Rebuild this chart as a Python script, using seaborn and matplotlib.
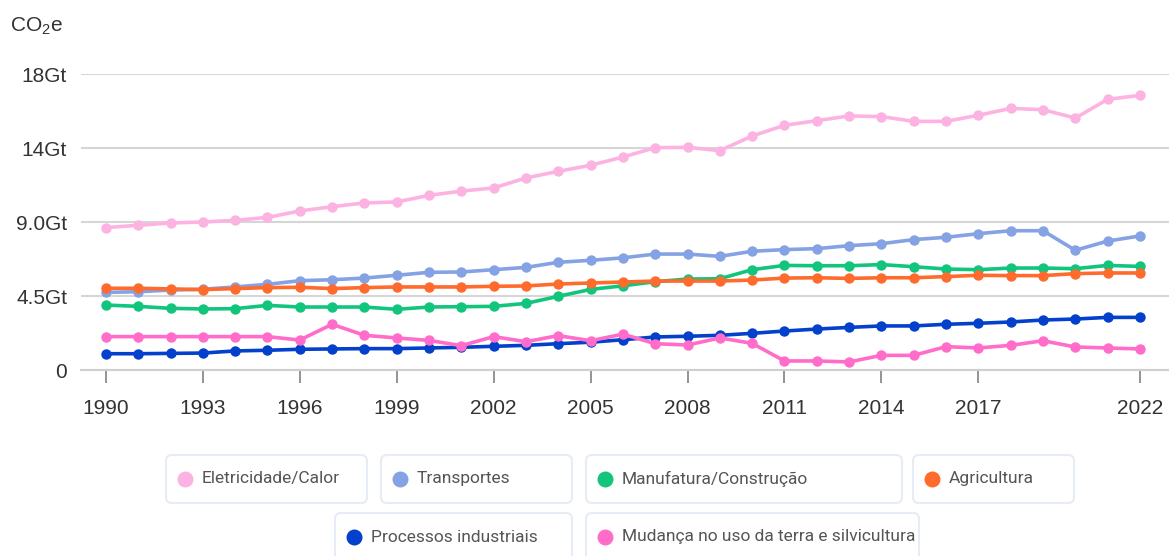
import numpy as np
import pandas as pd
import seaborn as sns
import matplotlib.pyplot as plt
from matplotlib.patches import FancyBboxPatch
from matplotlib.lines import Line2D
from matplotlib.transforms import IdentityTransform

# Emissoes por setor (Gt CO2e)
anos = list(range(1990, 2023))
eletricidade = [8.66, 8.80, 8.94, 9.00, 9.10, 9.28, 9.67, 9.93, 10.16, 10.22, 10.62,
                10.88, 11.07, 11.68, 12.08, 12.45, 12.95, 13.52, 13.54, 13.34, 14.23,
                14.88, 15.16, 15.45, 15.41, 15.12, 15.12, 15.49, 15.91, 15.83, 15.32,
                16.46, 16.70]
transportes = [4.72, 4.76, 4.86, 4.91, 5.05, 5.21, 5.43, 5.49, 5.59, 5.76, 5.94,
               5.96, 6.10, 6.24, 6.55, 6.67, 6.82, 7.05, 7.05, 6.91, 7.22,
               7.32, 7.38, 7.56, 7.68, 7.93, 8.07, 8.29, 8.47, 8.47, 7.28,
               7.84, 8.15]
manufatura = [3.95, 3.87, 3.75, 3.71, 3.73, 3.93, 3.83, 3.83, 3.83, 3.69, 3.83,
              3.85, 3.87, 4.05, 4.48, 4.90, 5.12, 5.37, 5.53, 5.55, 6.10,
              6.36, 6.34, 6.34, 6.41, 6.28, 6.14, 6.10, 6.20, 6.20, 6.16,
              6.36, 6.30]
agricultura = [4.97, 4.97, 4.93, 4.89, 4.95, 5.01, 5.03, 4.95, 5.01, 5.05, 5.05,
               5.05, 5.09, 5.11, 5.23, 5.29, 5.35, 5.41, 5.41, 5.41, 5.47,
               5.59, 5.61, 5.57, 5.61, 5.61, 5.68, 5.76, 5.74, 5.74, 5.86,
               5.90, 5.90]
processos = [0.99, 0.99, 1.01, 1.03, 1.16, 1.20, 1.26, 1.28, 1.30, 1.30, 1.34,
             1.38, 1.44, 1.50, 1.60, 1.69, 1.84, 2.01, 2.05, 2.11, 2.23,
             2.37, 2.49, 2.59, 2.68, 2.68, 2.78, 2.84, 2.92, 3.04, 3.10,
             3.20, 3.20]
mudanca = [2.03, 2.03, 2.03, 2.03, 2.03, 2.03, 1.82, 2.78, 2.11, 1.95, 1.80,
           1.48, 2.03, 1.72, 2.09, 1.78, 2.18, 1.60, 1.52, 1.95, 1.62,
           0.55, 0.55, 0.49, 0.89, 0.89, 1.42, 1.34, 1.50, 1.78, 1.40,
           1.34, 1.28]

setores = ['Eletricidade/Calor', 'Transportes', 'Manufatura/Construção',
           'Agricultura', 'Processos industriais',
           'Mudança no uso da terra e silvicultura']
cores = ['#fdb3e2', '#84a2e4', '#12c57d', '#ff6b2c', '#0340cb', '#ff6cc9']

yticks = [0, 4.5, 9.0, 13.5, 18]
ytick_labels = ['0', '4.5Gt', '9.0Gt', '14Gt', '18Gt']
xticks = [1990, 1993, 1996, 1999, 2002, 2005, 2008, 2011, 2014, 2017, 2022]

series = [eletricidade, transportes, manufatura, agricultura, processos, mudanca]
df = pd.concat([pd.DataFrame({'ano': anos, 'valor': v, 'setor': s})
                for s, v in zip(setores, series)], ignore_index=True)

sns.set_style('white')
plt.rcParams['font.family'] = ['Liberation Sans', 'DejaVu Sans']
plt.rcParams['mathtext.default'] = 'regular'

W, H = 1169, 556
fig = plt.figure(figsize=(W / 100, H / 100), dpi=100)
ax = fig.add_axes([81 / W, 1 - 370 / H, (W - 81) / W, 296 / H])

sns.lineplot(data=df, x='ano', y='valor', hue='setor', hue_order=setores,
             palette=dict(zip(setores, cores)), marker='o', markersize=7.5,
             markeredgewidth=0, linewidth=2.6, legend=False, ax=ax)

ax.set_xlim(1989.23, 2022.9)
ax.set_ylim(0, 18)
ax.set_xticks(xticks)
ax.set_xticklabels([str(x) for x in xticks])
ax.set_yticks(yticks)
ax.set_yticklabels(ytick_labels)
ax.set_xlabel('')
ax.set_ylabel('')
ax.yaxis.grid(True, color='#d6d6d6', linewidth=1.5)
ax.xaxis.grid(False)
for s in ['top', 'right', 'left']:
    ax.spines[s].set_visible(False)
ax.spines['bottom'].set_color('#cfcfcf')
ax.spines['bottom'].set_linewidth(1.5)
ax.tick_params(axis='x', length=9, width=1.1, color='#777777', pad=12,
               labelsize=15, labelcolor='#333333', bottom=True)
ax.tick_params(axis='y', length=0, pad=10, labelsize=15, labelcolor='#333333')

fig.text(10 / W, 1 - 32 / H, 'CO$_2$e', fontsize=15, color='#333333', va='baseline')

# legenda em caixas arredondadas
caixas = [(166, 367, 455), (381, 572, 455), (586, 902, 455), (913, 1074, 455),
          (335, 572, 513), (586, 919, 513)]
ident = IdentityTransform()
for (x0, x1, y0), nome, cor in zip(caixas, setores, cores):
    yb = H - (y0 + 48)
    fig.add_artist(FancyBboxPatch((x0, yb), x1 - x0, 48,
                                  boxstyle='round,pad=0,rounding_size=6',
                                  facecolor='white', edgecolor='#e7ebf5',
                                  linewidth=1.5, transform=ident))
    yc = H - (y0 + 24)
    fig.add_artist(Line2D([x0 + 19], [yc], marker='o', markersize=11.5,
                          markeredgewidth=0, color=cor, transform=ident))
    fig.text(x0 + 36, yc, nome, fontsize=12.5, color='#555555', va='center',
             family=['Roboto', 'DejaVu Sans'], transform=ident)

fig.savefig('out.png', dpi=100)
